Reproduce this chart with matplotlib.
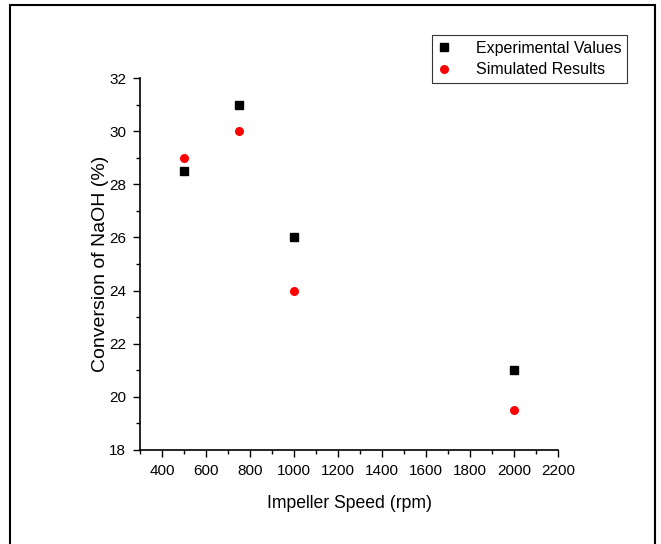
import matplotlib.pyplot as plt
from matplotlib.patches import Rectangle
from matplotlib.ticker import MultipleLocator

plt.rcParams['font.family'] = ['Liberation Sans', 'DejaVu Sans']

# Data
speed = [500, 750, 1000, 2000]
experimental = [28.5, 31.0, 26.0, 21.0]
simulated = [29.0, 30.0, 24.0, 19.5]

fig = plt.figure(figsize=(6.61, 5.44), dpi=100)
ax = fig.add_axes([0.2118, 0.1728, 0.6324, 0.6838])

ax.plot(speed, experimental, 's', color='black', markersize=6, label='Experimental Values')
ax.plot(speed, simulated, 'o', color='red', markersize=6.5, markeredgewidth=0, label='Simulated Results')

ax.set_xlim(300, 2200)
ax.set_ylim(18, 32)
ax.set_xticks(range(400, 2201, 200))
ax.set_yticks(range(18, 33, 2))
ax.xaxis.set_minor_locator(MultipleLocator(100))
ax.yaxis.set_minor_locator(MultipleLocator(1))
ax.tick_params(which='major', direction='out', length=5, width=1, labelsize=11, pad=5)
ax.tick_params(which='minor', direction='out', length=3, width=1)

for s in ['top', 'right']:
    ax.spines[s].set_visible(False)
for s in ['left', 'bottom']:
    ax.spines[s].set_linewidth(1.2)

ax.set_xlabel('Impeller Speed (rpm)', fontsize=12.7, labelpad=12)
ax.set_ylabel('Conversion of NaOH (%)', fontsize=14, labelpad=0)

leg = ax.legend(loc='upper right', bbox_to_anchor=(1.165, 1.115), fontsize=11.5,
                frameon=True, fancybox=False, edgecolor='black', handlelength=0.8,
                handletextpad=1.6, borderpad=0.35, labelspacing=0.4, borderaxespad=0)
leg.get_frame().set_linewidth(0.8)

# outer frame around the figure
fig.patches.append(Rectangle((10 / 661, -0.02), 645 / 661, 1 - 5 / 544 + 0.02,
                             transform=fig.transFigure, fill=False,
                             edgecolor='black', linewidth=1.5))

fig.savefig('out.png', dpi=100)
